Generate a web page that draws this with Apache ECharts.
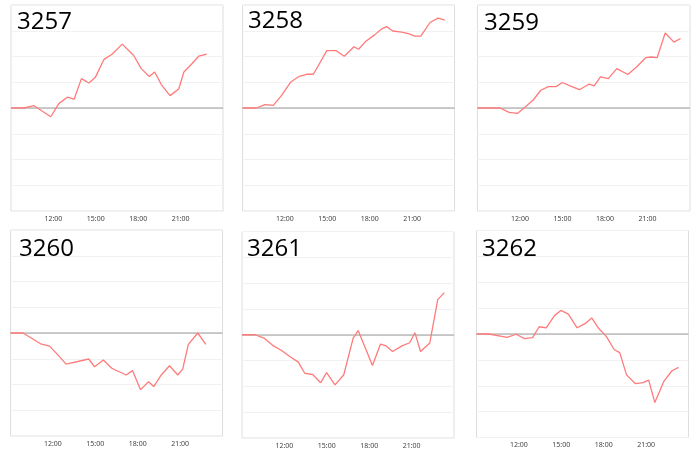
<!DOCTYPE html>
<html>
<head>
<meta charset="utf-8">
<script src="https://cdn.jsdelivr.net/npm/echarts@6/dist/echarts.min.js"></script>
<style>html,body{margin:0;padding:0;background:#fff}#c{width:700px;height:450px}</style>
</head>
<body>
<div id="c"></div>
<script>
// ---- data ----
const names = ["3257", "3258", "3259", "3260", "3261", "3262"];
const xTickLabels = ["12:00", "15:00", "18:00", "21:00"];

const times3257 = ["09:00","09:55","10:38","11:49","12:23","12:59","13:28","13:59","14:31","14:58","15:35","16:09","16:52","17:40","18:13","18:47","19:10","19:38","20:15","20:52","21:14","21:46","22:17","22:51"];
const values3257 = [0,0,0.09,-0.34,0.17,0.42,0.34,1.14,0.97,1.19,1.89,2.09,2.48,2.05,1.53,1.22,1.40,0.91,0.48,0.74,1.40,1.70,2.01,2.09];

const times3258 = ["09:00","09:58","10:35","11:11","11:46","12:25","13:01","13:32","14:01","14:58","15:36","16:12","16:53","17:13","17:41","18:21","18:49","19:12","19:38","20:16","20:48","21:11","21:37","22:16","22:50","23:19"];
const values3258 = [0,0,0.13,0.10,0.49,1.01,1.23,1.31,1.31,2.23,2.23,2.01,2.38,2.28,2.57,2.84,3.06,3.16,2.99,2.95,2.88,2.79,2.79,3.32,3.49,3.41];

const times3259 = ["09:00","10:35","11:14","11:49","12:22","12:56","13:28","14:00","14:33","14:59","15:37","16:12","16:53","17:14","17:41","18:14","18:50","19:37","20:16","20:53","21:16","21:41","22:15","22:52","23:20"];
const values3259 = [0,0,-0.17,-0.21,0.04,0.31,0.69,0.83,0.83,0.99,0.84,0.71,0.93,0.86,1.21,1.14,1.53,1.30,1.61,1.96,1.98,1.96,2.91,2.56,2.70];

const times3260 = ["09:00","09:53","11:08","11:46","12:22","12:56","14:32","14:57","15:34","16:10","17:11","17:38","18:12","18:46","19:08","19:40","20:15","20:50","21:11","21:35","22:15","22:49"];
const values3260 = [0,0,-0.42,-0.51,-0.86,-1.21,-1.01,-1.31,-1.05,-1.37,-1.63,-1.46,-2.20,-1.89,-2.08,-1.63,-1.27,-1.63,-1.40,-0.44,0,-0.44];

const times3261 = ["09:00","09:55","10:33","11:10","11:48","12:23","12:59","13:27","14:00","14:34","14:59","15:35","16:12","16:52","17:13","18:14","18:48","19:11","19:39","20:19","20:52","21:14","21:38","22:17","22:51","23:19"];
const values3261 = [0,0,-0.13,-0.41,-0.61,-0.84,-1.06,-1.50,-1.54,-1.86,-1.47,-1.94,-1.55,-0.13,0.16,-1.19,-0.36,-0.43,-0.65,-0.43,-0.31,0.08,-0.65,-0.32,1.36,1.63];

const times3262 = ["09:00","09:52","11:10","11:48","12:24","12:58","13:26","13:56","14:31","14:58","15:30","16:07","16:41","17:09","17:40","18:11","18:45","19:08","19:37","20:15","20:47","21:11","21:37","22:16","22:50","23:18"];
const values3262 = [0,0,-0.13,-0.01,-0.18,-0.14,0.28,0.24,0.71,0.91,0.77,0.24,0.40,0.62,0.20,-0.09,-0.61,-0.72,-1.58,-1.92,-1.88,-1.78,-2.65,-1.82,-1.42,-1.29];

const allTimes = [times3257, times3258, times3259, times3260, times3261, times3262];
const allValues = [values3257, values3258, values3259, values3260, values3261, values3262];

// ---- layout ----
const panels = [
  {left: 11,    top: 5,     width: 212,   height: 206, tl: 17,  tt: 10},
  {left: 242.5, top: 5,     width: 212,   height: 206, tl: 248, tt: 9},
  {left: 477.5, top: 5,     width: 212.5, height: 206, tl: 484, tt: 11},
  {left: 10.5,  top: 230,   width: 212,   height: 206, tl: 19,  tt: 237},
  {left: 242,   top: 231.5, width: 212,   height: 206.5, tl: 247, tt: 237},
  {left: 476.5, top: 230.5, width: 212,   height: 207, tl: 482, tt: 237}
];

function toHours(s) { const p = s.split(':'); return +p[0] + (+p[1]) / 60; }

const grid = [], xAxis = [], yAxis = [], series = [], title = [];
panels.forEach((p, i) => {
  grid.push({left: p.left, top: p.top, width: p.width, height: p.height,
    show: true, borderColor: '#dedede', borderWidth: 1, backgroundColor: '#fff'});
  title.push({text: names[i], left: p.tl, top: p.tt, padding: 0,
    textStyle: {fontSize: 24, fontWeight: 'normal', color: '#000', fontFamily: 'Open Sans'}});
  xAxis.push({type: 'value', gridIndex: i, min: 9, max: 24, interval: 3,
    axisLine: {show: true, lineStyle: {color: '#dcdcdc'}},
    axisTick: {show: false}, splitLine: {show: false},
    axisLabel: {showMinLabel: false, showMaxLabel: false, fontSize: 7, color: '#444',
      margin: 4, fontFamily: 'Noto Sans',
      formatter: v => { const s = (v < 10 ? '0' : '') + v + ':00'; return xTickLabels.indexOf(s) >= 0 ? s : ''; }}});
  yAxis.push({type: 'value', gridIndex: i, min: -4, max: 4, interval: 1,
    axisLine: {show: false}, axisTick: {show: false}, axisLabel: {show: false},
    splitLine: {show: true, lineStyle: {color: '#f2f2f2', width: 1}}});
  series.push({type: 'line', xAxisIndex: i, yAxisIndex: i, z: 3,
    data: allTimes[i].map((t, k) => [toHours(t), allValues[i][k]]),
    showSymbol: false, symbol: 'none', animation: false,
    lineStyle: {color: '#ff7b7b', width: 1.3},
    markLine: {silent: true, z: 1, symbol: 'none', label: {show: false}, animation: false,
      lineStyle: {color: '#bdbdbd', width: 1.5, type: 'solid'},
      data: [{yAxis: 0}]}});
});

const chart = echarts.init(document.getElementById('c'), null, {renderer: 'canvas'});
chart.setOption({animation: false, backgroundColor: '#fff', title, grid, xAxis, yAxis, series});
</script>
</body>
</html>
